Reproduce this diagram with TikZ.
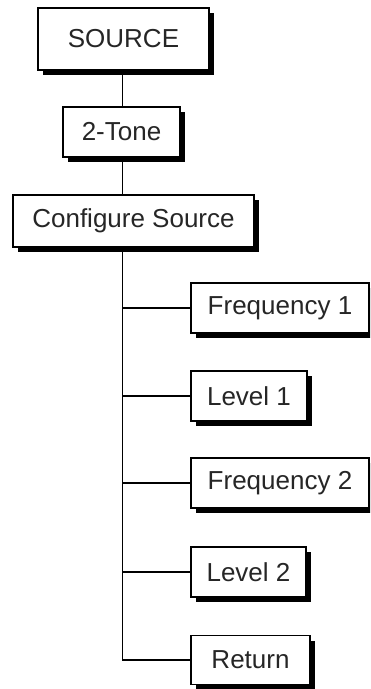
\documentclass[tikz,border=0pt]{standalone}
\usepackage{fontspec}
\setmainfont{Liberation Sans}
\usetikzlibrary{shadows}
\begin{document}
\begin{tikzpicture}[x=1pt,y=-1pt,
  menubox/.style={draw=black, fill=white, line width=1.6pt, inner sep=0pt,
    font=\fontsize{26}{30}\selectfont, text=black!85,
    drop shadow={shadow xshift=5pt, shadow yshift=-5pt, fill=black, opacity=1}},
  link/.style={line width=1.8pt, black}]
\clip (0,0) rectangle (370,689);
\fill[white] (0,0) rectangle (370,689);
\coordinate (sp) at (122.5,0);
\node[menubox, minimum width=171pt, minimum height=62pt] (src) at (123.5,39) {SOURCE};
\node[menubox, minimum width=117pt, minimum height=50pt] (two) at (121.5,132) {2-Tone};
\node[menubox, minimum width=241pt, minimum height=52pt] (conf) at (133.5,221) {Configure Source};
\node[menubox, minimum width=178pt, minimum height=50pt] (f1) at (280,308) {Frequency 1};
\node[menubox, minimum width=116pt, minimum height=50pt] (l1) at (249,396) {Level 1};
\node[menubox, minimum width=178pt, minimum height=50pt] (f2) at (280,483) {Frequency 2};
\node[menubox, minimum width=115pt, minimum height=50pt] (l2) at (248.5,572) {Level 2};
\node[menubox, minimum width=119pt, minimum height=49pt] (ret) at (250.5,660) {Return};
\draw[link] (src.south -| sp) -- (two.north -| sp);
\draw[link] (two.south -| sp) -- (conf.north -| sp);
\draw[link] (conf.south -| sp) |- (ret.west);
\draw[link] (sp |- f1.west) -- (f1.west);
\draw[link] (sp |- l1.west) -- (l1.west);
\draw[link] (sp |- f2.west) -- (f2.west);
\draw[link] (sp |- l2.west) -- (l2.west);
\end{tikzpicture}
\end{document}
